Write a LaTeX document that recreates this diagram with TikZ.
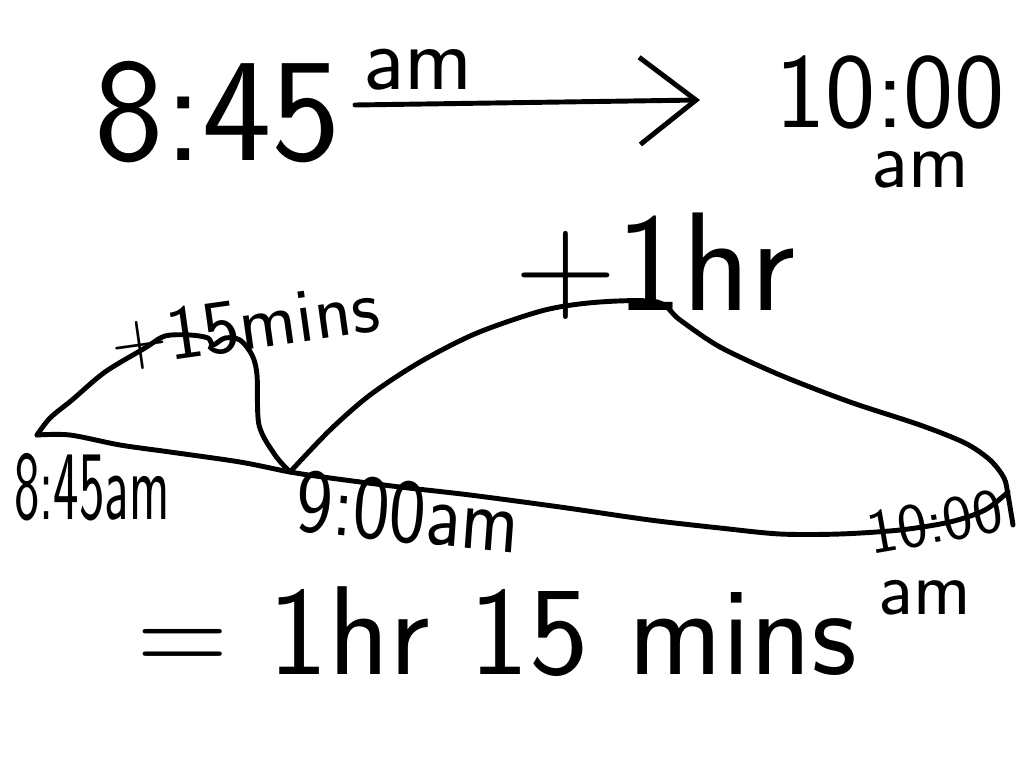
\documentclass[tikz,border=0pt]{standalone}
\usetikzlibrary{arrows.meta}
\newcommand\hw[1]{\fontsize{#1}{#1}\selectfont\sffamily}
\tikzset{
  pen/.style={line width=3.5pt, line cap=round, line join=round},
  scrawl/.style={inner sep=0pt, font=\hw{#1}},
}
\begin{document}
\begin{tikzpicture}[x=0.025cm, y=-0.025cm]
  \useasboundingbox (0,0) rectangle (1024,768);
  % the question
  \node[scrawl=105pt] (start) at (218,112) {8:45};
  \node[scrawl=65pt] (startam) at (418,70) {am};
  \node[scrawl=76pt] (finish) at (890,92) {10:00};
  \node[scrawl=58pt] (finisham) at (920,170) {am};
  \coordinate (tail) at (355,105);
  \coordinate (head) at (700,100);
  \draw[pen, -{Straight Barb[length=40pt,width=62pt]}] (tail) -- (head);
  % the number line
  \coordinate (a) at (37,435);
  \coordinate (b) at (290,472);
  \coordinate (c) at (1008,492);
  \draw[pen] plot[smooth] coordinates {(37,435) (70,435) (120,445) (170,452) (240,462) (290,472)
    (330,478) (400,487) (470,495) (560,507) (650,520) (720,528) (780,534) (840,534) (900,530)
    (950,522) (985,510) (1008,492)};
  \draw[pen] plot[smooth] coordinates {(37,435) (50,418) (72,400) (105,372) (145,348) (165,336)
    (190,335) (208,338) (213,345) (225,338) (240,340) (252,355) (257,375) (259,425) (275,455) (290,472)};
  \draw[pen] plot[smooth] coordinates {(290,472) (330,430) (370,395) (420,362) (477,333) (545,310)
    (600,302) (657,302) (680,320) (720,347) (780,375) (850,402) (920,425) (965,443) (990,460)
    (1004,478) (1008,495) (1013,525)};
  % jumps
  \node[scrawl=55pt, rotate=8] (jumpa) at (245,326) {+15mins};
  \node[scrawl=100pt] (jumpb) at (655,266) {+1hr};
  % times on the line
  \node[scrawl=70pt, xscale=0.55] (ta) at (92,487) {8:45am};
  \node[scrawl=65pt, xscale=0.85, rotate=-5] (tb) at (408,512) {9:00am};
  \node[scrawl=45pt, rotate=10] (tc) at (935,522) {10:00};
  \node[scrawl=55pt] (tcam) at (925,598) {am};
  % the answer
  \node[scrawl=90pt] (total) at (497,632) {= 1hr 15 mins};
\end{tikzpicture}
\end{document}
